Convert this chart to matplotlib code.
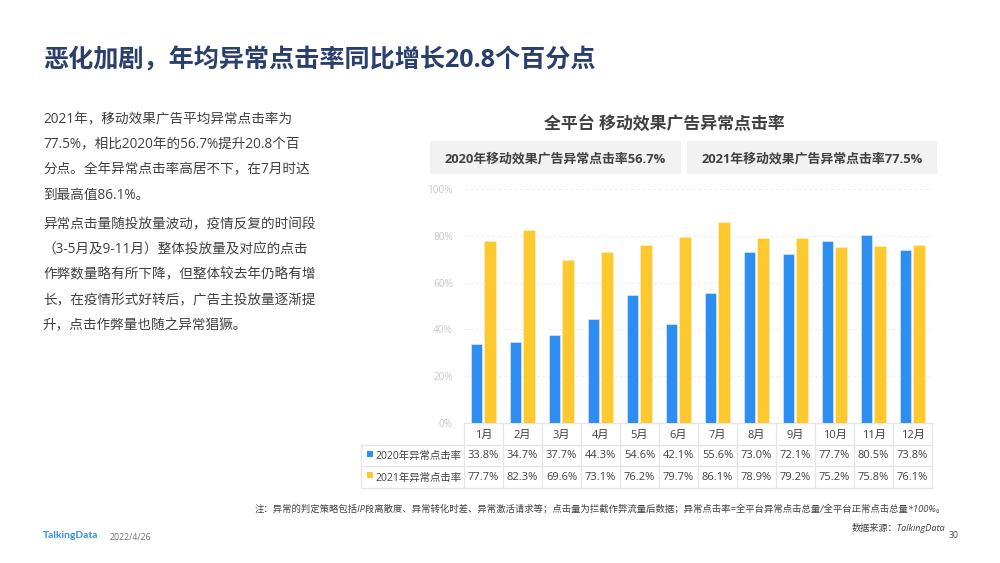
import matplotlib
matplotlib.use("Agg")
import matplotlib.pyplot as plt
from matplotlib.patches import Rectangle

plt.rcParams['font.family'] = ['Open Sans', 'Noto Sans CJK SC', 'DejaVu Sans']

months = ['1月','2月','3月','4月','5月','6月','7月','8月','9月','10月','11月','12月']
s2020 = [33.8,34.7,37.7,44.3,54.6,42.1,55.6,73.0,72.1,77.7,80.5,73.8]
s2021 = [77.7,82.3,69.6,73.1,76.2,79.7,86.1,78.9,79.2,75.2,75.8,76.1]
name2020 = '2020年异常点击率'
name2021 = '2021年异常点击率'
yticks = [0,20,40,60,80,100]
title = '恶化加剧，年均异常点击率同比增长20.8个百分点'
chart_title = '全平台 移动效果广告异常点击率'
box_labels = ['2020年移动效果广告异常点击率56.7%', '2021年移动效果广告异常点击率77.5%']
para1 = ['2021年，移动效果广告平均异常点击率为','77.5%，相比2020年的56.7%提升20.8个百','分点。全年异常点击率高居不下，在7月时达','到最高值86.1%。']
para2 = ['异常点击量随投放量波动，疫情反复的时间段','（3-5月及9-11月）整体投放量及对应的点击','作弊数量略有所下降，但整体较去年仍略有增','长，在疫情形式好转后，广告主投放量逐渐提','升，点击作弊量也随之异常猖獗。']
note = '注：异常的判定策略包括IP段离散度、异常转化时差、异常激活请求等；点击量为拦截作弊流量后数据；异常点击率=全平台异常点击总量/全平台正常点击总量*100%。'
source = '数据来源：TalkingData'

BLUE, YEL = '#2e8df0', '#fdc92f'
W, H = 1000, 563
fig = plt.figure(figsize=(10, 5.63), dpi=100)
bg = fig.add_axes([0, 0, 1, 1])
bg.set_xlim(0, W); bg.set_ylim(H, 0); bg.axis('off')

bg.text(43, 60.5, title, fontsize=18.1, fontweight='bold', color='#2a3f6d', va='center')

for i, l in enumerate(para1):
    bg.text(43, 119.5 + i*25.3, l, fontsize=9.8, color='#404040', va='center')
for i, l in enumerate(para2):
    bg.text(43, 224.5 + i*25.3, l, fontsize=9.8, color='#404040', va='center')

bg.text(664, 123.5, chart_title, fontsize=12.2, fontweight='bold', color='#404040', va='center', ha='center')
for x0, x1, lab in [(430, 681, box_labels[0]), (687, 937, box_labels[1])]:
    bg.add_patch(Rectangle((x0, 141), x1-x0, 33, fc='#f2f2f2', ec='none'))
    bg.text((x0+x1)/2, 158.5, lab, fontsize=9.3, fontweight='bold', color='#404040', va='center', ha='center')

# chart
L, R, T, B = 464, 932, 189, 423
ax = fig.add_axes([L/W, 1-B/H, (R-L)/W, (B-T)/H])
ax.patch.set_alpha(0)
pos = list(range(12))
ax.bar([p-0.175 for p in pos], s2020, width=0.295, color=BLUE, edgecolor='#d8e8fa', linewidth=0.5, zorder=3)
ax.bar([p+0.165 for p in pos], s2021, width=0.295, color=YEL, edgecolor='#fdeebb', linewidth=0.5, zorder=3)
ax.set_xlim(-0.5, 11.5); ax.set_ylim(0, 100)
ax.set_yticks(yticks, [f'{v}%' for v in yticks], fontsize=7.2, color='#c8c8c8')
ax.set_xticks([])
ax.tick_params(axis='y', length=0, pad=8)
ax.grid(axis='y', color='#f0f0f0', linewidth=0.8, linestyle=(0, (3, 2)), zorder=0)
for s in ax.spines.values():
    s.set_visible(False)

# table
col_w = (R-L)/12
rows_y = [423, 445, 466, 488]
LINE = '#e6e6e6'
bg.plot([L, R], [rows_y[0]]*2, color=LINE, lw=1)
bg.plot([361, R], [rows_y[1]]*2, color=LINE, lw=1)
bg.plot([361, R], [rows_y[2]]*2, color=LINE, lw=1)
bg.plot([361, R], [rows_y[3]]*2, color=LINE, lw=1)
bg.plot([361, 361], [rows_y[1], rows_y[3]], color=LINE, lw=1)
for i in range(13):
    x = L + i*col_w
    bg.plot([x, x], [rows_y[0], rows_y[3]], color=LINE, lw=1)
TC = '#404040'
for i in range(12):
    cx = L + (i+0.5)*col_w
    bg.text(cx, 435, months[i], fontsize=8, color=TC, ha='center', va='center')
    bg.text(cx, 456, f'{s2020[i]:.1f}%', fontsize=8, color=TC, ha='center', va='center')
    bg.text(cx, 478, f'{s2021[i]:.1f}%', fontsize=8, color=TC, ha='center', va='center')
bg.add_patch(Rectangle((367, 451), 6, 6, fc=BLUE, ec='none'))
bg.add_patch(Rectangle((367, 472), 6, 6, fc=YEL, ec='none'))
bg.text(375, 456, name2020, fontsize=7.5, color=TC, va='center')
bg.text(375, 478, name2021, fontsize=7.5, color=TC, va='center')

bg.text(946, 509, note, fontsize=6.72, color='#404040', ha='right', va='center', style='italic')
bg.text(945, 528, source, fontsize=6.6, color='#404040', ha='right', va='center', style='italic')
bg.text(43, 536, 'TalkingData', fontsize=7.4, fontweight='bold', color=BLUE, va='center', family=['Lato'])
bg.text(110, 537, '2022/4/26', fontsize=6.3, color='#707070', va='center')
bg.text(959, 536, '30', fontsize=6.3, color='#505050', ha='right', va='center')

fig.savefig('out.png', dpi=100)
